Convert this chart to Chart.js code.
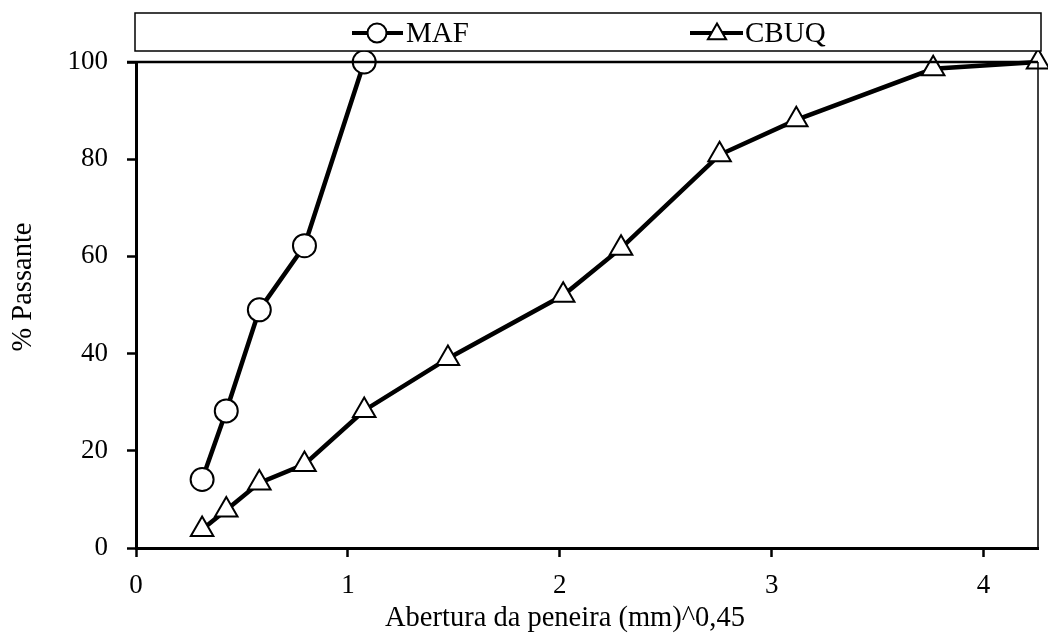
<!DOCTYPE html>
<html>
<head>
<meta charset="utf-8">
<script src="https://cdn.jsdelivr.net/npm/chart.js@4"></script>
<style>
html,body{margin:0;padding:0;background:#fff;}
canvas{display:block;}
</style>
</head>
<body>
<canvas id="c" width="1048" height="634"></canvas>
<script>
// Data (x = sieve opening (mm)^0.45, y = % passing)
const mafX = [0.312, 0.426, 0.582, 0.795, 1.077];
const mafY = [14.1, 28.2, 49.0, 62.2, 100];
const cbuqX = [0.312, 0.426, 0.582, 0.795, 1.077, 1.472, 2.016, 2.289, 2.754, 3.116, 3.762, 4.257];
const cbuqY = [3.8, 7.8, 13.4, 17.2, 28.3, 39.0, 52.0, 61.7, 80.9, 88.1, 98.6, 100];
const seriesNames = ["MAF", "CBUQ"];
const xTickValues = [0, 1, 2, 3, 4];
const yTickValues = [0, 20, 40, 60, 80, 100];
const xTitle = "Abertura da peneira (mm)^0,45";
const yTitle = "% Passante";

const FONT = "'Liberation Serif', 'Times New Roman', serif";
const FS = 27;
const FT = 28.5;

function pts(xs, ys){ return xs.map((x,i)=>({x:x, y:ys[i]})); }

const framePlugin = {
  id: 'frame',
  afterDatasetsDraw(chart){
    const {ctx, chartArea:a} = chart;
    ctx.save();
    ctx.strokeStyle = '#000';
    ctx.lineWidth = 2.5;
    ctx.beginPath(); ctx.moveTo(a.left - 9, a.top); ctx.lineTo(a.right, a.top); ctx.stroke();
    ctx.lineWidth = 1.5;
    ctx.beginPath(); ctx.moveTo(a.right, a.top); ctx.lineTo(a.right, a.bottom); ctx.stroke();
    ctx.restore();
  },
  afterDraw(chart){
    const {ctx} = chart;
    ctx.save();
    // legend box
    ctx.strokeStyle = '#000';
    ctx.lineWidth = 1.5;
    ctx.fillStyle = '#fff';
    ctx.fillRect(135, 13, 906, 38);
    ctx.strokeRect(135, 13, 906, 38);
    const cy = 33;
    // MAF item
    ctx.lineWidth = 4;
    ctx.beginPath(); ctx.moveTo(352, cy); ctx.lineTo(403, cy); ctx.stroke();
    ctx.lineWidth = 2;
    ctx.beginPath(); ctx.arc(377, cy, 9.5, 0, Math.PI*2); ctx.fillStyle='#fff'; ctx.fill(); ctx.stroke();
    // CBUQ item
    ctx.lineWidth = 4;
    ctx.beginPath(); ctx.moveTo(690, cy); ctx.lineTo(743, cy); ctx.stroke();
    ctx.lineWidth = 2;
    const r = 10.5, tx = 717, ty = cy + 1;
    ctx.beginPath();
    ctx.moveTo(tx, ty - r);
    ctx.lineTo(tx + r*0.866, ty + r/2);
    ctx.lineTo(tx - r*0.866, ty + r/2);
    ctx.closePath(); ctx.fillStyle='#fff'; ctx.fill(); ctx.stroke();
    ctx.fillStyle = '#000';
    ctx.font = "29px " + FONT;
    ctx.textBaseline = 'middle';
    ctx.textAlign = 'left';
    ctx.fillText(seriesNames[0], 406, cy + 1);
    ctx.fillText(seriesNames[1], 745, cy + 1);
    // axis titles
    ctx.font = FT + "px " + FONT;
    ctx.textAlign = 'center';
    ctx.textBaseline = 'middle';
    ctx.fillText(xTitle, 565, 619);
    ctx.translate(24, 287);
    ctx.rotate(-Math.PI/2);
    ctx.fillText(yTitle, 0, 0);
    ctx.restore();
  }
};

const ds = (label, data, style, radius) => ({
  label: label,
  data: data,
  borderColor: '#000',
  borderWidth: 4.5,
  pointStyle: style,
  pointRadius: radius,
  pointHoverRadius: radius,
  pointBackgroundColor: '#fff',
  pointBorderColor: '#000',
  pointBorderWidth: 2,
  showLine: true,
  fill: false,
  tension: 0,
  clip: false
});

new Chart(document.getElementById('c'), {
  type: 'scatter',
  data: {
    datasets: [
      ds(seriesNames[0], pts(mafX, mafY), 'circle', 11.5),
      ds(seriesNames[1], pts(cbuqX, cbuqY), 'triangle', 13)
    ]
  },
  options: {
    responsive: false,
    animation: false,
    devicePixelRatio: 1,
    layout: { autoPadding: false, padding: { top: 62, right: 10, left: 0, bottom: 0 } },
    plugins: { legend: { display: false }, tooltip: { enabled: false } },
    scales: {
      x: {
        type: 'linear',
        min: 0,
        max: Math.pow(25, 0.45),
        afterFit(s){ s.height = 86; s.paddingLeft = 0; s.paddingRight = 0; },
        afterBuildTicks(s){ s.ticks = xTickValues.map(v=>({value:v})); },
        ticks: { color: '#000', font: { family: FONT, size: FS }, padding: 13, maxRotation: 0 },
        grid: { drawOnChartArea: false, drawTicks: true, tickLength: 9, tickWidth: 2.5, tickColor: '#000' },
        border: { display: true, color: '#000', width: 3 }
      },
      y: {
        type: 'linear',
        min: 0,
        max: 100,
        afterFit(s){ s.width = 136; s.paddingTop = 0; s.paddingBottom = 0; },
        afterBuildTicks(s){ s.ticks = yTickValues.map(v=>({value:v})); },
        ticks: { color: '#000', font: { family: FONT, size: FS }, padding: 19 },
        grid: { drawOnChartArea: false, drawTicks: true, tickLength: 9, tickWidth: 2.5, tickColor: '#000' },
        border: { display: true, color: '#000', width: 3 }
      }
    }
  },
  plugins: [framePlugin]
});
</script>
</body>
</html>
